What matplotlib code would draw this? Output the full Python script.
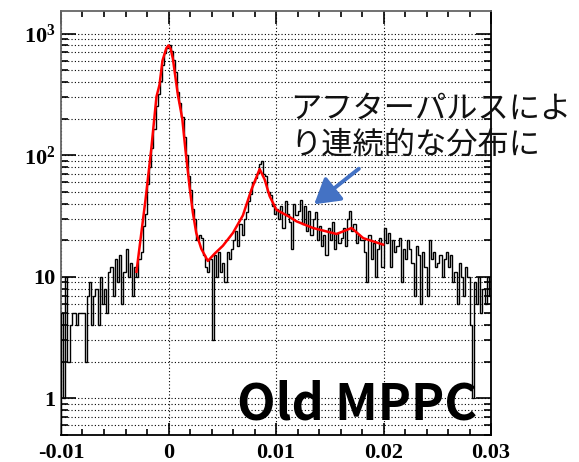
import numpy as np
import matplotlib
matplotlib.use('Agg')
import matplotlib.pyplot as plt
from matplotlib.ticker import FixedLocator, FuncFormatter, MultipleLocator

# histogram: 200 bins from -0.01 to 0.03 (bin width 0.0002), counts
x_lo, x_hi = -0.01, 0.03
counts = [
    5, 1, 10, 2, 4, 5, 5, 4, 5, 5,
    5, 2, 7, 9, 4, 7, 8, 4, 10, 6,
    8, 5, 11, 12, 7, 14, 9, 15, 6, 11,
    17, 10, 13, 7, 12, 10, 14, 16, 26, 33,
    58, 80, 115, 165, 255, 320, 410, 550, 690, 760,
    810, 720, 610, 480, 330, 270, 205, 140, 100, 68,
    52, 36, 30, 20, 22, 21, 15, 12, 11, 14,
    3, 15, 10, 16, 11, 13, 9, 16, 14, 17,
    20, 24, 18, 27, 22, 30, 34, 42, 48, 60,
    65, 72, 85, 90, 70, 68, 50, 47, 38, 33,
    36, 30, 38, 25, 42, 33, 28, 17, 40, 32,
    35, 43, 27, 38, 24, 35, 22, 30, 34, 20,
    26, 18, 22, 15, 25, 20, 28, 17, 23, 19,
    21, 25, 18, 30, 35, 24, 27, 19, 22, 20,
    20, 16, 9, 22, 14, 19, 10, 17, 21, 12,
    25, 19, 23, 12, 20, 16, 18, 21, 9, 17,
    14, 20, 17, 13, 7, 18, 15, 6, 16, 12,
    7, 20, 14, 16, 12, 13, 15, 10, 14, 16,
    12, 15, 9, 11, 6, 13, 10, 7, 12, 10,
    4, 1, 9, 6, 10, 5, 8, 6, 10, 7,
]

# fit curve (red)
fit_x = [-0.00298, -0.00214, -0.00161, -0.00112, -0.00084, -0.00056, -0.0002, 0.0,
         0.0002, 0.0004, 0.00087, 0.00128, 0.00158, 0.00196, 0.00226, 0.00258,
         0.00305, 0.00366, 0.00429, 0.00506, 0.006, 0.00692, 0.00771, 0.00848,
         0.00895, 0.00941, 0.01004, 0.01128, 0.0119, 0.01345, 0.01563, 0.01703,
         0.01811, 0.01997]
fit_y = [11, 43, 111, 303, 378, 600, 760, 800,
         750, 627, 315, 200, 110, 55, 34, 23,
         17, 13.5, 15.5, 18, 23, 32, 52, 77,
         63, 46, 35.6, 31, 28.6, 25.2, 22.5, 25.2,
         20.8, 18.4]

plt.rcParams['mathtext.fontset'] = 'custom'
plt.rcParams['mathtext.rm'] = 'Liberation Serif:bold'
plt.rcParams['mathtext.it'] = 'Liberation Serif:bold'
plt.rcParams['mathtext.bf'] = 'Liberation Serif:bold'

fig = plt.figure(figsize=(5.79, 4.62), dpi=100)
ax = fig.add_axes([61 / 579, 1 - 435 / 462, 430 / 579, 424.5 / 462])

edges = np.linspace(x_lo, x_hi, len(counts) + 1)
ax.stairs(counts, edges, color='black', lw=1.0, zorder=3)
ax.plot(fit_x, fit_y, color='red', lw=1.8, zorder=4)

ax.set_yscale('log')
ax.set_xlim(x_lo, x_hi)
ax.set_ylim(0.5, 1550)

# ticks, ROOT style
ax.xaxis.set_major_locator(FixedLocator([-0.01, 0, 0.01, 0.02, 0.03]))
ax.xaxis.set_minor_locator(MultipleLocator(0.002))
ax.xaxis.set_major_formatter(FuncFormatter(lambda v, p: '0' if abs(v) < 1e-9 else '%g' % v))
ax.yaxis.set_major_locator(FixedLocator([1, 10, 100, 1000]))
ax.yaxis.set_minor_locator(FixedLocator([m * 10.0 ** e for e in range(-1, 4) for m in range(2, 10)]))
ylabels = {1: '1', 10: '10', 100: r'$10^{2}$', 1000: r'$10^{3}$'}
ax.yaxis.set_major_formatter(FuncFormatter(lambda v, p: ylabels.get(int(round(v)), '')))
ax.yaxis.set_minor_formatter(FuncFormatter(lambda v, p: ''))

ax.tick_params(axis='both', which='both', direction='in', top=True, right=True, width=1.2)
ax.tick_params(axis='x', which='major', length=9, pad=6)
ax.tick_params(axis='x', which='minor', length=4.5)
ax.tick_params(axis='y', which='major', length=11, pad=4)
ax.tick_params(axis='y', which='minor', length=5)
for lab in ax.get_xticklabels() + ax.get_yticklabels():
    lab.set_fontfamily('Liberation Serif')
    lab.set_fontweight('bold')
    lab.set_fontsize(16)

ax.grid(True, which='major', axis='x', color='black', ls=(0, (1, 2)), lw=0.8)
ax.grid(True, which='both', axis='y', color='black', ls=(0, (1, 2)), lw=0.8)
ax.set_axisbelow(True)

for side in ['top', 'left']:
    ax.spines[side].set_color('#666666')
for side in ['bottom', 'right']:
    ax.spines[side].set_color('black')
for s in ax.spines.values():
    s.set_linewidth(1.3)

# annotation
fig.text(290 / 579, 1 - 93 / 462, 'アフターパルスによ\nり連続的な分布に',
         family=['Noto Sans CJK JP', 'DejaVu Sans'], fontsize=22.5, color='#111111',
         va='top', ha='left', linespacing=1.15)
fig.add_artist(matplotlib.patches.FancyArrowPatch(
    (361 / 579, 1 - 167 / 462), (312 / 579, 1 - 206 / 462),
    transform=fig.transFigure, arrowstyle='-|>,head_length=10,head_width=6',
    color='#4472C4', lw=2.8, mutation_scale=1.5))

fig.text(237 / 579, 1 - 419 / 462, 'Old MPPC', family=['Noto Sans CJK JP', 'DejaVu Sans'],
         fontweight='bold', fontsize=36, color='black', va='baseline', ha='left')

fig.savefig('out.png', dpi=100)
